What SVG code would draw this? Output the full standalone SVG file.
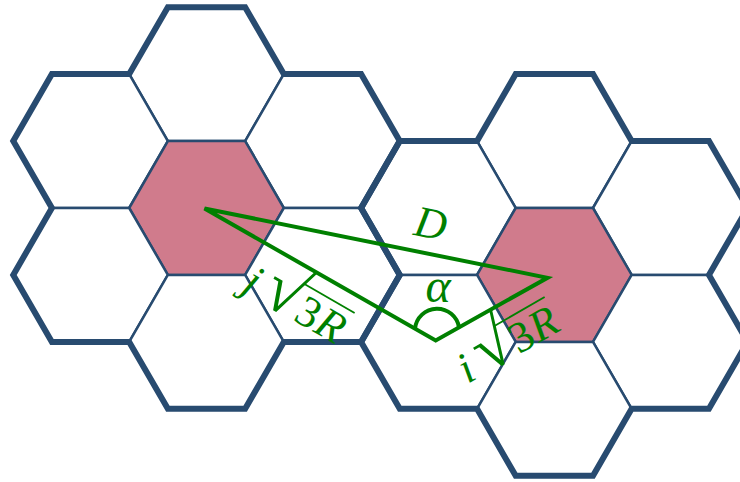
<svg xmlns="http://www.w3.org/2000/svg" xmlns:xlink="http://www.w3.org/1999/xlink" width="740" height="482" viewBox="0 0 740 482">
<style>
.cell{fill:#ffffff;stroke:#284b70;stroke-width:2.5;stroke-linejoin:miter}
.co{fill:#d07b8c}
.outline{fill:none;stroke:#284b70;stroke-width:6;stroke-linejoin:miter}
.tri{fill:none;stroke:#008000;stroke-width:4;stroke-linejoin:miter}
.lbl{font-family:"Liberation Serif","Times New Roman",serif;fill:#008000;font-size:44px}
.rad{font-family:"Liberation Serif","Times New Roman",serif;fill:#008000;font-size:68px}
.it{font-style:italic}
.vin{stroke:#008000;stroke-width:1.8}
</style>
<defs>
<polygon id="hex" points="-77.3,0 -38.65,-66.94 38.65,-66.94 77.3,0 38.65,66.94 -38.65,66.94"/>
<polygon id="outline" points="167.85,7.18 245.15,7.18 283.8,74.12 361.1,74.12 399.75,141.06 361.1,208 399.75,274.94 361.1,341.88 283.8,341.88 245.15,408.82 167.85,408.82 129.2,341.88 51.9,341.88 13.25,274.94 51.9,208 13.25,141.06 51.9,74.12 129.2,74.12"/>
</defs>
<rect width="740" height="482" fill="#ffffff"/>
<g id="cluster-left">
<use id="L-top" class="cell" xlink:href="#hex" x="206.5" y="74.12"/>
<use id="L-ul" class="cell" xlink:href="#hex" x="90.55" y="141.06"/>
<use id="L-ur" class="cell" xlink:href="#hex" x="322.45" y="141.06"/>
<use id="L-center" class="cell co" xlink:href="#hex" x="206.5" y="208"/>
<use id="L-ll" class="cell" xlink:href="#hex" x="90.55" y="274.94"/>
<use id="L-lr" class="cell" xlink:href="#hex" x="322.45" y="274.94"/>
<use id="L-bottom" class="cell" xlink:href="#hex" x="206.5" y="341.88"/>
</g>
<g id="cluster-right">
<use id="R-top" class="cell" xlink:href="#hex" x="554.35" y="141.06"/>
<use id="R-ul" class="cell" xlink:href="#hex" x="438.4" y="208"/>
<use id="R-ur" class="cell" xlink:href="#hex" x="670.3" y="208"/>
<use id="R-center" class="cell co" xlink:href="#hex" x="554.35" y="274.94"/>
<use id="R-ll" class="cell" xlink:href="#hex" x="438.4" y="341.88"/>
<use id="R-lr" class="cell" xlink:href="#hex" x="670.3" y="341.88"/>
<use id="R-bottom" class="cell" xlink:href="#hex" x="554.35" y="408.82"/>
</g>
<g id="cluster-outlines">
<use class="outline" xlink:href="#outline"/>
<use class="outline" xlink:href="#outline" x="347.85" y="66.94"/>
</g>
<g id="connectors">
<polygon class="tri" points="204.5,208.5 435.7,340.4 547.5,277.8"/>
<path class="tri" d="M 415 328.6 A 22.2 22.2 0 0 1 459 327.4"/>
</g>
<g id="labels">
<text class="lbl it" transform="translate(431,223) rotate(11)" x="0" y="15" text-anchor="middle">D</text>
<text class="lbl it" x="438" y="302" text-anchor="middle" style="font-size:48px">α</text>
<g id="label-j" transform="translate(309,312) rotate(30)">
<text class="lbl it" x="-64" y="15" text-anchor="middle">j</text>
<text class="rad" x="-49" y="16">√</text>
<text class="lbl"><tspan x="-11" y="15">3</tspan><tspan class="it" x="12" y="15">R</tspan></text>
<line class="vin" x1="-18" y1="-22" x2="40" y2="-22"/>
</g>
<g id="label-i" transform="translate(521,336) rotate(-30)">
<text class="lbl it" x="-64" y="15" text-anchor="middle">i</text>
<text class="rad" x="-49" y="16">√</text>
<text class="lbl"><tspan x="-11" y="15">3</tspan><tspan class="it" x="12" y="15">R</tspan></text>
<line class="vin" x1="-18" y1="-22" x2="40" y2="-22"/>
</g>
</g>
</svg>
